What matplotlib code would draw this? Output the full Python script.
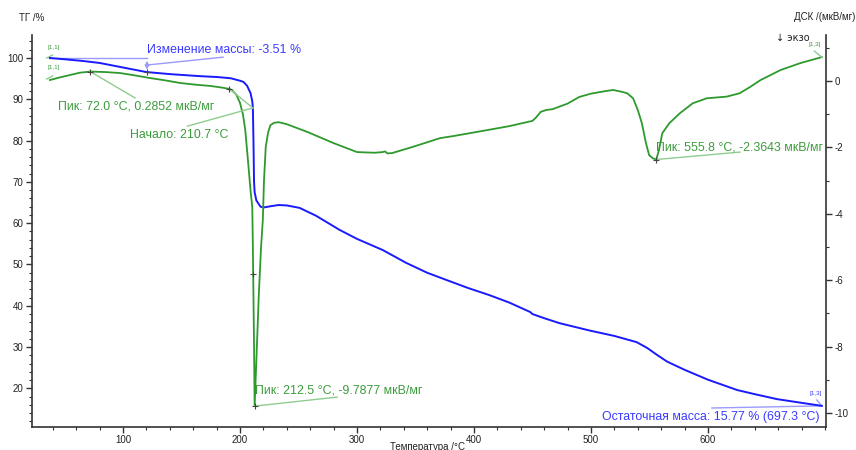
import numpy as np
import matplotlib
matplotlib.use('Agg')
import matplotlib.pyplot as plt
from matplotlib.ticker import MultipleLocator

plt.rcParams['font.family'] = ['Liberation Sans', 'DejaVu Sans']
plt.rcParams['axes.unicode_minus'] = False

# TG curve (temperature, mass %)
tg_temp = [37.5, 50, 65, 80, 100, 120, 140, 166, 180, 192, 200, 203, 206, 209,
           210.5, 211, 211.5, 212, 212.5, 214, 217.5, 220, 226, 233, 240, 251,
           265, 285, 300, 322, 342, 360, 376, 395, 413, 430, 448, 450, 452, 460,
           473, 499, 520, 539, 548, 556, 565, 580, 600, 625, 640, 659, 680, 697.3]
tg_mass = [100.0, 99.7, 99.3, 98.8, 97.7, 96.6, 96.1, 95.6, 95.4, 95.1, 94.5, 94.2,
           93.3, 91.5, 89.5, 88.0, 80.0, 70.0, 67.5, 65.5, 64.0, 63.8, 64.1, 64.4,
           64.3, 63.7, 61.8, 58.4, 56.2, 53.5, 50.4, 48.0, 46.3, 44.3, 42.6, 40.8,
           38.5, 38.0, 37.8, 37.0, 35.8, 34.0, 32.7, 31.2, 29.8, 28.2, 26.5, 24.5,
           22.1, 19.6, 18.6, 17.4, 16.5, 15.77]

# DSC curve (temperature, uV/mg)
dsc_temp = [37.5, 45, 54.6, 63, 72, 85, 97.5, 110, 123, 136, 149, 162, 175, 185,
            191, 193, 197, 200, 202.5, 204.5, 207, 209, 210.5, 211, 212, 212.5,
            214, 216, 218, 219.5, 220.5, 222, 224, 226, 229, 233, 240, 258, 280,
            300, 315, 322, 324, 326, 330, 348, 371, 382, 411, 430, 450, 453, 457,
            462, 467, 480, 490, 500, 513, 519, 527, 531, 536, 540, 543.5, 547,
            549.7, 553, 555.8, 558, 561, 567, 576, 587, 599, 616, 627, 636, 645,
            662, 679, 697.3]
dsc_val = [0.03, 0.10, 0.18, 0.25, 0.285, 0.27, 0.24, 0.17, 0.09, 0.02, -0.06,
           -0.11, -0.15, -0.20, -0.24, -0.27, -0.42, -0.66, -1.0, -1.48, -2.47,
           -3.3, -3.8, -5.0, -8.0, -9.79, -8.4, -6.5, -5.0, -4.19, -3.0, -1.99,
           -1.55, -1.33, -1.26, -1.24, -1.3, -1.54, -1.87, -2.14, -2.16, -2.14,
           -2.12, -2.18, -2.17, -1.98, -1.72, -1.66, -1.48, -1.36, -1.2, -1.1,
           -0.93, -0.87, -0.85, -0.68, -0.48, -0.38, -0.3, -0.27, -0.33, -0.37,
           -0.52, -0.87, -1.27, -1.87, -2.23, -2.33, -2.364, -2.1, -1.57, -1.27,
           -0.97, -0.67, -0.52, -0.47, -0.37, -0.18, 0.03, 0.33, 0.54, 0.72]

blue = '#1a1aff'
green = '#2e9a2e'
blue_txt = '#3a3aff'
green_txt = '#3c9c3c'
blue_thin = '#9a9aff'
green_thin = '#8fcc8f'
axis_col = '#333333'

fig = plt.figure(figsize=(8.56, 4.5), dpi=100)
ax = fig.add_axes([32 / 856, 1 - 427 / 450, (826 - 32) / 856, (427 - 35) / 450])
ax2 = ax.twinx()

ax.set_xlim(22.2, 700.9)
ax.set_ylim(10.65, 105.57)
ax2.set_ylim(-10.42, 1.386)

ax2.plot(dsc_temp, dsc_val, color=green, lw=1.3, zorder=2)
ax.plot(tg_temp, tg_mass, color=blue, lw=1.4, zorder=3)

# spines / ticks
for s in ['top', 'right']:
    ax.spines[s].set_visible(False)
for s in ['top', 'left', 'bottom']:
    ax2.spines[s].set_visible(False)
for a in [ax, ax2]:
    for s in a.spines.values():
        s.set_color(axis_col)
        s.set_linewidth(1.2)

ax.xaxis.set_minor_locator(MultipleLocator(20))
ax.yaxis.set_minor_locator(MultipleLocator(2))
ax2.yaxis.set_minor_locator(MultipleLocator(1))
ax.set_yticks([20, 30, 40, 50, 60, 70, 80, 90, 100])
ax.set_xticks([100, 200, 300, 400, 500, 600])
ax2.set_yticks([0, -2, -4, -6, -8, -10])

for a in [ax, ax2]:
    a.tick_params(which='major', length=4, width=1, color=axis_col,
                  labelsize=7, labelcolor='#222222', pad=2)
    a.tick_params(which='minor', length=2, width=0.8, color=axis_col)

# axis titles
fig.text(32 / 856, 1 - 18 / 450, 'ТГ /%', fontsize=7, color='#222222',
         ha='center', va='center')
fig.text(855 / 856, 1 - 17 / 450, 'ДСК /(мкВ/мг)', fontsize=7, color='#222222',
         ha='right', va='center')
fig.text(793 / 856, 1 - 38 / 450, '↓ экзо', fontsize=7, color='#222222',
         ha='center', va='center', family=['DejaVu Sans'])
fig.text(428 / 856, 1 - 446.5 / 450, 'Температура /°C', fontsize=7, color='#222222',
         ha='center', va='center')

# mass change annotation
ax.plot([37.5, 120.5], [100, 100], color=blue_thin, lw=1, zorder=2)
ax.annotate('', xy=(120.5, 96.49), xytext=(120.5, 100),
            arrowprops=dict(arrowstyle='<->', color=blue_thin, lw=1,
                            mutation_scale=6))
ax.plot([120.5, 185.5], [98.3, 100.2], color=blue_thin, lw=1)
ax.text(120.5, 101.9, 'Изменение массы: -3.51 %', color=blue_txt, fontsize=8.9,
        ha='left', va='center')
ax.plot([120.5], [96.49], marker='+', color='#444444', ms=4, mew=0.8, zorder=4)

# residual mass annotation
ax.plot([603.4, 697.3], [15.25, 15.77], color=blue_thin, lw=1)
ax.text(695.7, 13.1, 'Остаточная масса: 15.77 % (697.3 °C)', color=blue_txt,
        fontsize=8.9, ha='right', va='center')

# DSC annotations
ax2.plot([72, 110.3], [0.285, -0.51], color=green_thin, lw=1)
ax2.text(44.4, -0.78, 'Пик: 72.0 °C, 0.2852 мкВ/мг', color=green_txt,
         fontsize=8.9, ha='left', va='center')

ax2.plot([191, 211], [-0.24, -0.81], color=green_thin, lw=1)
ax2.plot([155, 211], [-1.36, -0.81], color=green_thin, lw=1)
ax2.text(106, -1.63, 'Начало: 210.7 °C', color=green_txt, fontsize=8.9,
         ha='left', va='center')

ax2.plot([212.5, 283], [-9.79, -9.52], color=green_thin, lw=1)
ax2.text(212.8, -9.31, 'Пик: 212.5 °C, -9.7877 мкВ/мг', color=green_txt,
         fontsize=8.9, ha='left', va='center')

ax2.plot([555.8, 627.4], [-2.364, -2.14], color=green_thin, lw=1)
ax2.text(555.6, -1.99, 'Пик: 555.8 °C, -2.3643 мкВ/мг', color=green_txt,
         fontsize=8.9, ha='left', va='center')

for px, py in [(72, 0.285), (191, -0.24), (212.5, -9.79), (211.1, -5.81),
               (555.8, -2.364)]:
    ax2.plot([px], [py], marker='+', color='#444444', ms=4, mew=0.8, zorder=4)

# curve end labels
ax.plot([34.7, 39.8], [100, 100.7], color=green_thin, lw=1)
ax.text(41, 102.6, '[1,1]', color=green_txt, fontsize=4.5, ha='center', va='center')
ax.plot([697.3, 693], [15.77, 17.2], color=blue_thin, lw=1)
ax.text(692, 18.8, '[1,3]', color=blue_txt, fontsize=4.5, ha='center', va='center')
ax2.plot([34.7, 39.8], [0.06, 0.15], color=green_thin, lw=1)
ax2.text(41, 0.4, '[1,1]', color=green_txt, fontsize=4.5, ha='center', va='center')
ax2.plot([697.3, 691], [0.72, 0.9], color=green_thin, lw=1)
ax2.text(691, 1.1, '[1,3]', color=green_txt, fontsize=4.5, ha='center', va='center')

fig.savefig('out.png', dpi=100)
